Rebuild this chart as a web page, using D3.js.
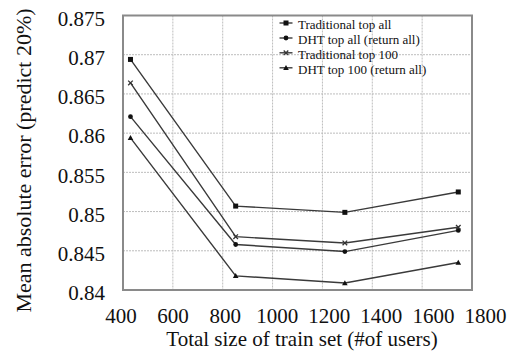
<!DOCTYPE html>
<html><head><meta charset="utf-8">
<script src="https://cdn.jsdelivr.net/npm/d3@7"></script>
<style>body{margin:0;background:#fff}svg{display:block}
svg text{font-family:"Liberation Serif","Times New Roman",Times,"DejaVu Serif",serif;}</style>
</head><body><svg id="c" width="512" height="356"></svg>
<script>
const sizes = [430, 852, 1290, 1745];
const tradAll = [0.8694, 0.8507, 0.8499, 0.8525];
const dhtAll = [0.8621, 0.8458, 0.8449, 0.8476];
const trad100 = [0.8664, 0.8468, 0.8460, 0.8480];
const dht100 = [0.8594, 0.8418, 0.8409, 0.8435];
const seriesNames = ["Traditional top all", "DHT top all (return all)", "Traditional top 100", "DHT top 100 (return all)"];
const markers = ["square", "circle", "cross", "triangle"];
const xTicks = [400, 600, 800, 1000, 1200, 1400, 1600, 1800];
const yTicks = [0.84, 0.845, 0.85, 0.855, 0.86, 0.865, 0.87, 0.875];
const yTickLabels = ["0.84", "0.845", "0.85", "0.855", "0.86", "0.865", "0.87", "0.875"];

const svg = d3.select("#c");
const L = 123, R = 472, T = 15.5, B = 290;
const x = d3.scaleLinear().domain([400, 1800]).range([L, R]);
// tick labels in the source are spread slightly wider than the plot frame
const xLab = d3.scaleLinear().domain([400, 1800]).range([120.5, 485]);
const y = d3.scaleLinear().domain([0.84, 0.875]).range([B, T]);

// gridlines
const g = svg.append("g");
g.selectAll(".vg").data(xTicks.slice(1, -1)).join("line")
  .attr("x1", d => x(d)).attr("x2", d => x(d)).attr("y1", T).attr("y2", B)
  .attr("stroke", "#bdbdbd").attr("stroke-width", 1).attr("stroke-dasharray", "2,1");
g.selectAll(".hg").data(yTicks.slice(1, -1)).join("line")
  .attr("x1", L).attr("x2", R).attr("y1", d => y(d)).attr("y2", d => y(d))
  .attr("stroke", "#bdbdbd").attr("stroke-width", 1).attr("stroke-dasharray", "2,1");

// frame
svg.append("rect").attr("x", L).attr("y", T).attr("width", R - L).attr("height", B - T)
  .attr("fill", "none").attr("stroke", "#8a8a8a").attr("stroke-width", 2);

// axes (labels only)
const xAxis = svg.append("g").attr("transform", `translate(0,${B})`)
  .call(d3.axisBottom(xLab).tickValues(xTicks).tickSize(0).tickPadding(0).tickFormat(d3.format("d")));
xAxis.attr("font-family", null).attr("font-size", null);
xAxis.select(".domain").remove();
xAxis.selectAll("text").attr("font-size", 21).attr("fill", "#111")
  .attr("dy", null).attr("y", 33.3);

const yAxis = svg.append("g").attr("transform", `translate(105,0)`)
  .call(d3.axisLeft(y).tickValues(yTicks).tickSize(0).tickPadding(0).tickFormat((d, i) => yTickLabels[i]));
yAxis.attr("font-family", null).attr("font-size", null);
yAxis.select(".domain").remove();
yAxis.selectAll("text").attr("font-size", 21).attr("fill", "#111").attr("dy", null).attr("y", 9.7);

// titles
svg.append("text").attr("x", 302).attr("y", 345.5).attr("text-anchor", "middle")
  .attr("font-size", 21).attr("fill", "#111")
  .text("Total size of train set (#of users)");
svg.append("text").attr("transform", `translate(30.5,160.5) rotate(-90)`).attr("text-anchor", "middle")
  .attr("font-size", 22).attr("fill", "#111")
  .text("Mean absolute error (predict 20%)");

const data = [tradAll, dhtAll, trad100, dht100];
const lineColor = "#3a3a3a";
function drawMarker(sel, type, cx, cy) {
  if (type === "square") sel.append("rect").attr("x", cx - 2.5).attr("y", cy - 2.5).attr("width", 5).attr("height", 5).attr("fill", "#111");
  else if (type === "circle") sel.append("circle").attr("cx", cx).attr("cy", cy).attr("r", 2.4).attr("fill", "#111");
  else if (type === "cross") {
    sel.append("path").attr("d", `M${cx-2.3},${cy-2.3}L${cx+2.3},${cy+2.3}M${cx-2.3},${cy+2.3}L${cx+2.3},${cy-2.3}`)
      .attr("stroke", "#333").attr("stroke-width", 1.3);
  } else {
    sel.append("path").attr("d", `M${cx},${cy-2.8}L${cx+2.8},${cy+2.2}L${cx-2.8},${cy+2.2}Z`).attr("fill", "#111");
  }
}
const line = d3.line().x((d, i) => x(sizes[i])).y(d => y(d));
data.forEach((vals, k) => {
  svg.append("path").attr("d", line(vals)).attr("fill", "none").attr("stroke", lineColor).attr("stroke-width", 1.4);
  const mg = svg.append("g");
  vals.forEach((v, i) => drawMarker(mg, markers[k], x(sizes[i]), y(v)));
});

// legend
const legBase = [29.3, 44.3, 59.1, 74.1];
seriesNames.forEach((name, k) => {
  const lg = svg.append("g");
  const ly = legBase[k] - 6.3;
  lg.append("line").attr("x1", 279.5).attr("x2", 292.5).attr("y1", ly).attr("y2", ly)
    .attr("stroke", lineColor).attr("stroke-width", 1.4);
  drawMarker(lg, markers[k], 286, ly);
  lg.append("text").attr("x", 298).attr("y", legBase[k])
    .attr("font-size", 13).attr("fill", "#111").text(name);
});
</script></body></html>
